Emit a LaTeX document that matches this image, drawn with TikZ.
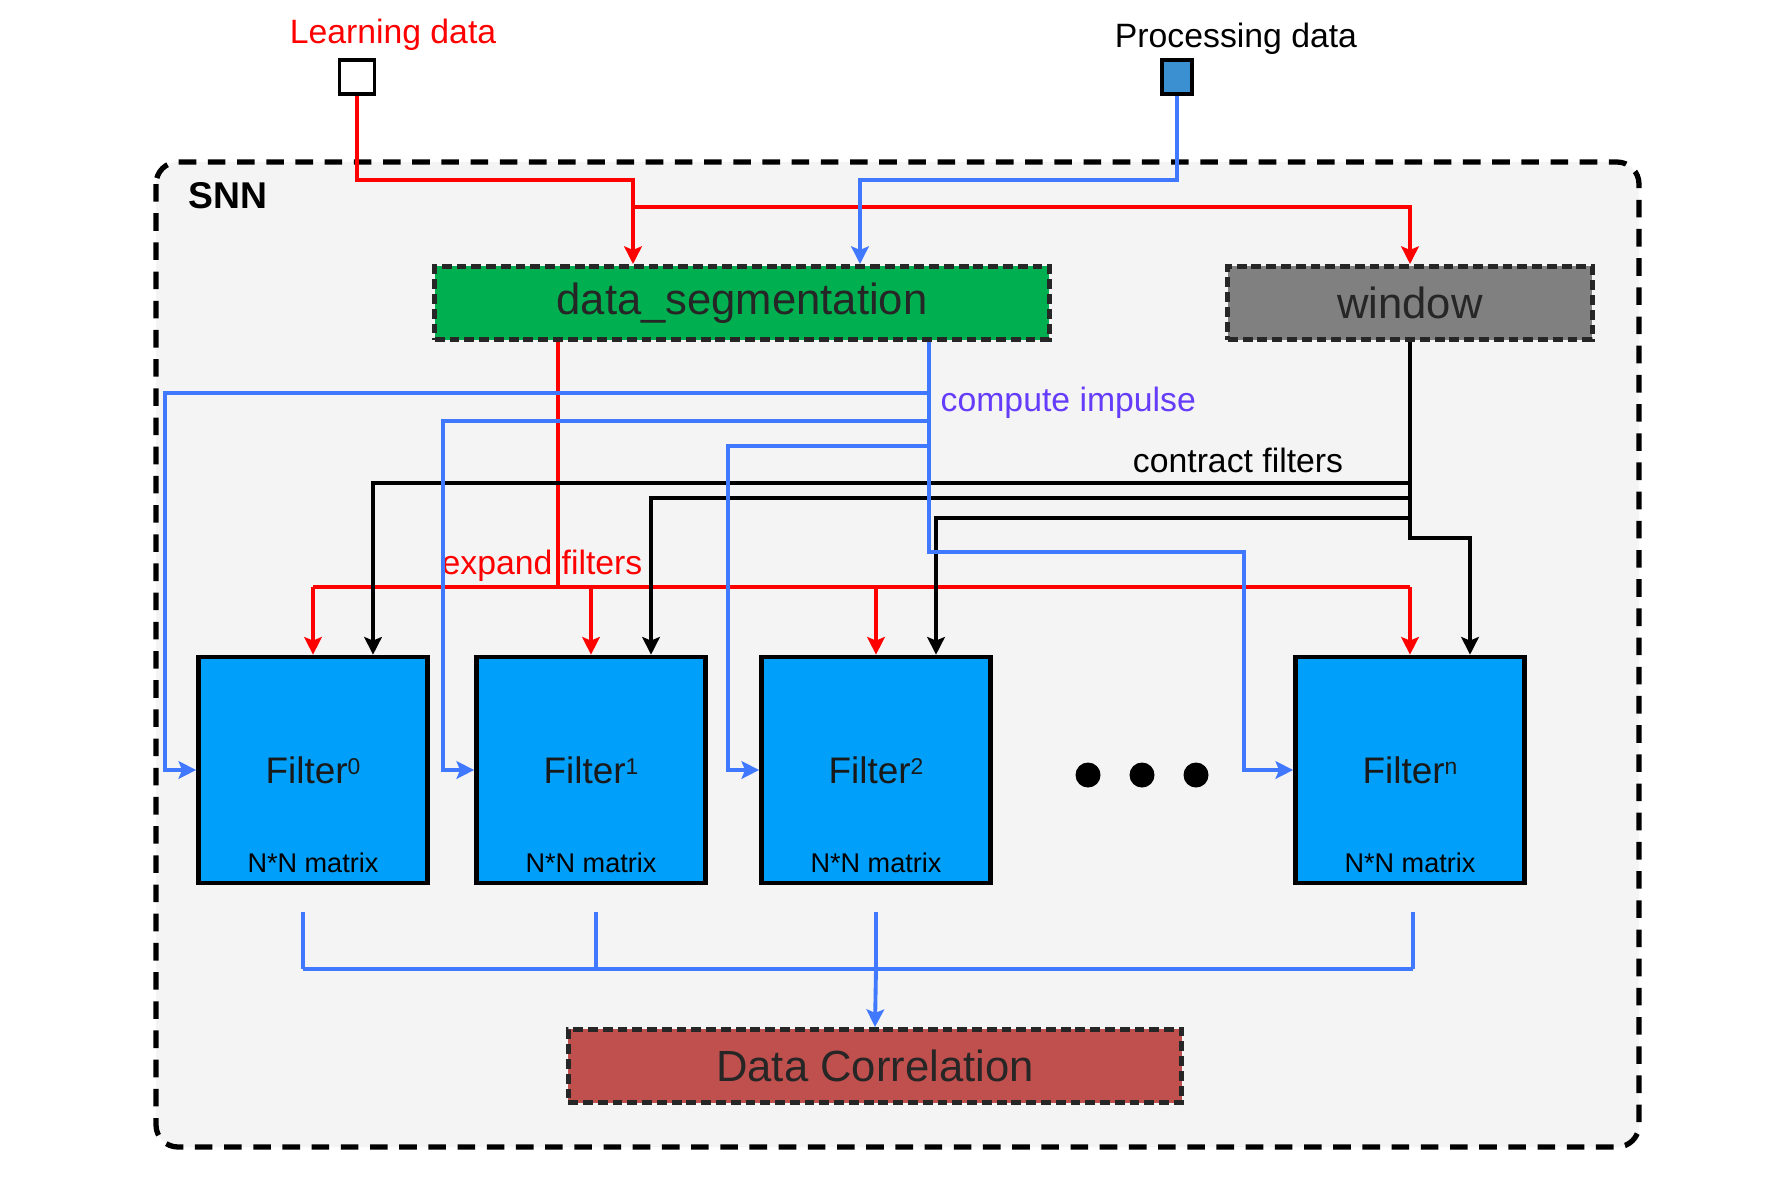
\documentclass[tikz,border=0pt]{standalone}
\usepackage{fontspec}
\setmainfont{Liberation Sans}
\usetikzlibrary{arrows.meta}

\definecolor{segGreen}{RGB}{0,176,80}
\definecolor{winGray}{RGB}{128,128,128}
\definecolor{filterBlue}{RGB}{0,160,250}
\definecolor{corrRed}{RGB}{192,80,77}
\definecolor{lineRed}{RGB}{255,0,0}
\definecolor{lineBlue}{RGB}{64,120,255}
\definecolor{impulseText}{RGB}{100,60,250}
\definecolor{snnBg}{RGB}{244,244,244}
\definecolor{pdBlue}{RGB}{58,144,208}

\begin{document}
\begin{tikzpicture}[x=0.01cm, y=-0.01cm, >={Stealth[length=5pt,width=5pt,inset=1pt]},
    redline/.style={lineRed, line width=1.1pt},
    blueline/.style={lineBlue, line width=1.1pt},
    blackline/.style={black, line width=1.1pt},
    dashbox/.style={draw=black!85, line width=1.4pt, dash pattern=on 2.8pt off 1.4pt, minimum height=0.73cm, font=\fontsize{12.4}{14}\selectfont, text=black!85},
    filterbox/.style={draw=black, line width=1.3pt, fill=filterBlue, minimum width=2.29cm, minimum height=2.26cm, text=black!90, font=\fontsize{10.5}{12}\selectfont},
    tag/.style={font=\fontsize{9.6}{11}\selectfont, inner sep=0pt},
    inbox/.style={draw=black, line width=1.1pt, inner sep=0pt, minimum height=0.34cm},
    dot/.style={circle, fill=black, inner sep=0pt, minimum size=0.25cm}]

    \useasboundingbox[fill=white] (0,0) rectangle (1772,1181);

    % SNN frame
    \draw[fill=snnBg, line width=1.5pt, dash pattern=on 5pt off 3.3pt, rounded corners=0.22cm] (156,162) rectangle (1639,1147);
    \node[font=\bfseries\fontsize{10.6}{12}\selectfont] (snn) at (228,196) {SNN};

    % inputs
    \node[inbox, fill=white, minimum width=0.35cm] (ld) at (357,77) {};
    \node[tag, text=lineRed] (ldtxt) at (393,35) {Learning data};
    \node[inbox, fill=pdBlue, minimum width=0.30cm] (pd) at (1177,77) {};
    \node[tag] (pdtxt) at (1236,39) {Processing data};

    % blocks
    \node[dashbox, fill=segGreen, minimum width=6.14cm] (seg) at (742,303) {data\_segmentation};
    \node[dashbox, fill=winGray, minimum width=3.64cm] (win) at (1410,303) {window};
    \node[dashbox, fill=corrRed, minimum width=6.13cm] (corr) at (875,1066) {Data Correlation};

    \foreach \i/\x in {0/313, 1/591, 2/876, n/1410} {
        \node[filterbox] (f\i) at (\x,770) {Filter{\fontsize{6.5}{7}\selectfont\raisebox{0.75ex}{\i}}};
        \node[font=\fontsize{7.7}{9}\selectfont, anchor=south] (m\i) at (f\i.south) {N*N matrix};
    }
    \foreach \j/\x in {1/1088, 2/1142, 3/1196}
        \node[dot] (d\j) at (\x,775) {};

    % learning data
    \coordinate (rJ) at (633,180);
    \coordinate (rK) at (633,207);
    \draw[redline, ->] (ld.south) |- (rJ) -- (rJ |- seg.north);
    \draw[redline, ->] (rK) -| (win.north);

    % processing data
    \coordinate (bJ) at (860,180);
    \draw[blueline, ->] (pd.south) |- (bJ) -- (bJ |- seg.north);

    % expand filters
    \coordinate (eJ) at (558,587);
    \draw[redline] (eJ |- seg.south) -- (eJ);
    \draw[redline] (f0.north |- eJ) -- (fn.north |- eJ);
    \foreach \i in {0,1,2,n}
        \draw[redline, ->] (f\i.north |- eJ) -- (f\i.north);
    \node[tag, text=lineRed] (exptxt) at (542,566) {expand filters};

    % contract filters
    \coordinate (kA) at (0,483);
    \coordinate (kB) at (0,498);
    \coordinate (kC) at (0,518);
    \coordinate (kD) at (0,538);
    \foreach \i in {0,1,2,n}
        \coordinate (k\i) at ([xshift=0.6cm]f\i.north);
    \draw[blackline, ->] (win.south) |- (kn |- kD) -- (kn);
    \draw[blackline, ->] (win.south |- kA) -| (k0);
    \draw[blackline, ->] (win.south |- kB) -| (k1);
    \draw[blackline, ->] (win.south |- kC) -| (k2);
    \node[tag] (contxt) at (1238,460) {contract filters};

    % compute impulse
    \coordinate (cJ) at (929,552);
    \coordinate (pA) at (0,393);
    \coordinate (pB) at (0,421);
    \coordinate (pC) at (0,446);
    \foreach \i in {0,1,2}
        \coordinate (c\i) at ([xshift=-0.31cm]f\i.west);
    \coordinate (cn) at ([xshift=-0.49cm]fn.west);
    \draw[blueline, ->] (cJ |- seg.south) -- (cJ) -| (cn) -- (fn.west);
    \draw[blueline, ->] (cJ |- pA) -| (c0) -- (f0.west);
    \draw[blueline, ->] (cJ |- pB) -| (c1) -- (f1.west);
    \draw[blueline, ->] (cJ |- pC) -| (c2) -- (f2.west);
    \node[tag, text=impulseText, anchor=west] (imptxt) at (940,403) {compute impulse};

    % correlation
    \coordinate (gL) at (0,969);
    \foreach \i/\dx in {0/-0.1cm, 1/0.05cm, 2/0cm, n/0.03cm}
        \coordinate (o\i) at ([xshift=\dx, yshift=-0.27cm]f\i.south);
    \draw[blueline, line width=0.9pt] (o0 |- gL) -- (on |- gL);
    \foreach \i in {0,1,2,n}
        \draw[blueline, line width=0.9pt] (o\i) -- (o\i |- gL);
    \draw[blueline, ->] (o2 |- gL) -- (corr.north);
\end{tikzpicture}
\end{document}
